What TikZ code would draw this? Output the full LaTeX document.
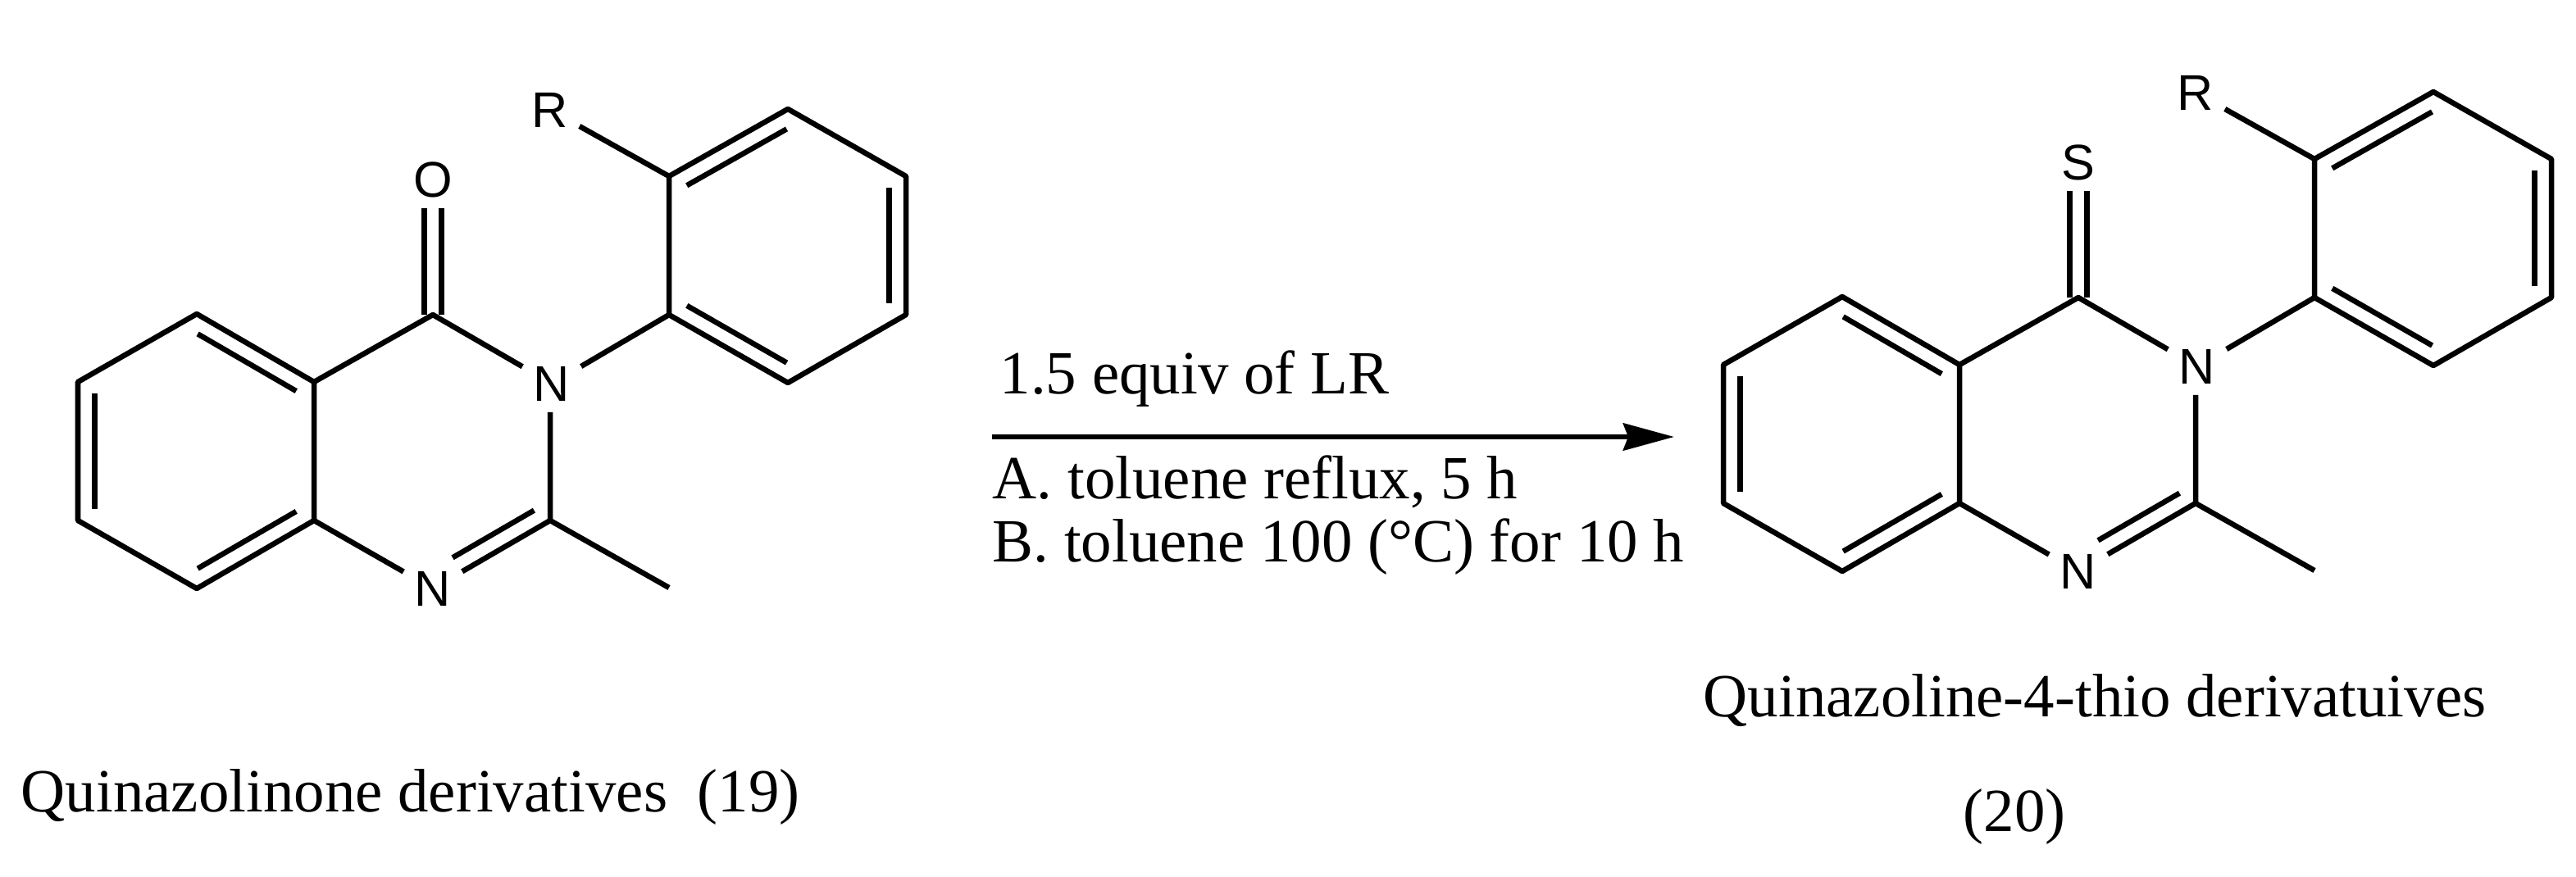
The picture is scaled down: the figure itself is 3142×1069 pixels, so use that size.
\documentclass[tikz,border=0pt]{standalone}
\usepackage{fontspec}
\setmainfont{Liberation Serif}
\newfontfamily\atomfont{Liberation Sans}
\usetikzlibrary{arrows.meta,calc}
\tikzset{
    atom/.style={font=\atomfont\fontsize{17.4pt}{20pt}\selectfont, inner sep=.13cm},
    bond/.style={line width=.065cm, line join=round},
    label/.style={font=\fontsize{21.3pt}{24pt}\selectfont, anchor=base west, inner sep=0pt},
}
\newcommand{\innerline}[4]{\draw[bond] ($(#1)!#3!(#2)!.205cm!-90:(#2)$) -- ($(#1)!#4!(#2)!.205cm!90:(#1)$);}
\begin{document}
\begin{tikzpicture}[x=.01cm, y=-.01cm]
        \useasboundingbox (0,0) rectangle (3142,1069);
        \foreach \m/\dx/\dy/\het in {left/0/0/O, right/2007/-21/S} {
        \begin{scope}[shift={(\dx,\dy)}, name prefix=\m-]
            \coordinate (cfive) at (240,383);
            \coordinate (cfoura) at (383,466);
            \coordinate (ceighta) at (383,635);
            \coordinate (ceight) at (240,718);
            \coordinate (cseven) at (95,635);
            \coordinate (csix) at (95,466);
            \coordinate (cfour) at (528,384);
            \coordinate (ctwo) at (671,635);
            \coordinate (methyl) at (816,717);
            \coordinate (arone) at (816,215);
            \coordinate (artwo) at (961,133);
            \coordinate (arthree) at (1105,215);
            \coordinate (arfour) at (1105,384);
            \coordinate (arfive) at (961,467);
            \coordinate (arsix) at (816,384);
            \node[atom] (nthree) at (673,468) {N};
            \node[atom] (none) at (528,718) {N};
            \node[atom] (hetero) at (528,219) {\het};
            \node[atom] (rgroup) at (671,134) {R};
            \draw[bond] (cfive) -- (cfoura) -- (ceighta) -- (ceight) -- (cseven) -- (csix) -- cycle;
            \draw[bond] (cfoura) -- (cfour) -- (nthree);
            \draw[bond] (ceighta) -- (none);
            \draw[bond] (none) -- (ctwo) -- (ctwo |- nthree.south);
            \draw[bond] (ctwo) -- (methyl);
            \draw[bond] (nthree) -- (arsix);
            \draw[bond] (arone) -- (artwo) -- (arthree) -- (arfour) -- (arfive) -- (arsix) -- cycle;
            \draw[bond] (arone) -- (rgroup);
            \draw[bond] ([xshift=-.105cm]hetero.south) -- ([xshift=-.105cm]cfour);
            \draw[bond] ([xshift=.105cm]hetero.south) -- ([xshift=.105cm]cfour);
            \innerline{cfive}{cfoura}{.08}{.92}
            \innerline{ceighta}{ceight}{.08}{.92}
            \innerline{cseven}{csix}{.08}{.92}
            \innerline{arone}{artwo}{.08}{.92}
            \innerline{arthree}{arfour}{.08}{.92}
            \innerline{arfive}{arsix}{.08}{.92}
            \innerline{ctwo}{none.center}{.065}{.76}
        \end{scope}
        }
        \coordinate (arrowstart) at (1210,533);
        \coordinate (arrowend) at (2042,533);
        \draw[line width=.065cm, -{Stealth[length=.62cm, width=.33cm, inset=.06cm]}] (arrowstart) -- (arrowend);
        \node[label] (reagent) at (1219,480) {1.5 equiv of LR};
        \node[label] (conda) at (1210,608) {A. toluene reflux, 5 h};
        \node[label] (condb) at (1210,685) {B. toluene 100 (°C) for 10 h};
        \node[label] (startname) at (25,990) {Quinazolinone derivatives};
        \node[label] (startnum) at (850,990) {(19)};
        \node[label] (prodname) at (2077,874) {Quinazoline-4-thio derivatuives};
        \node[label] (prodnum) at (2394,1014) {(20)};
    \end{tikzpicture}
\end{document}
